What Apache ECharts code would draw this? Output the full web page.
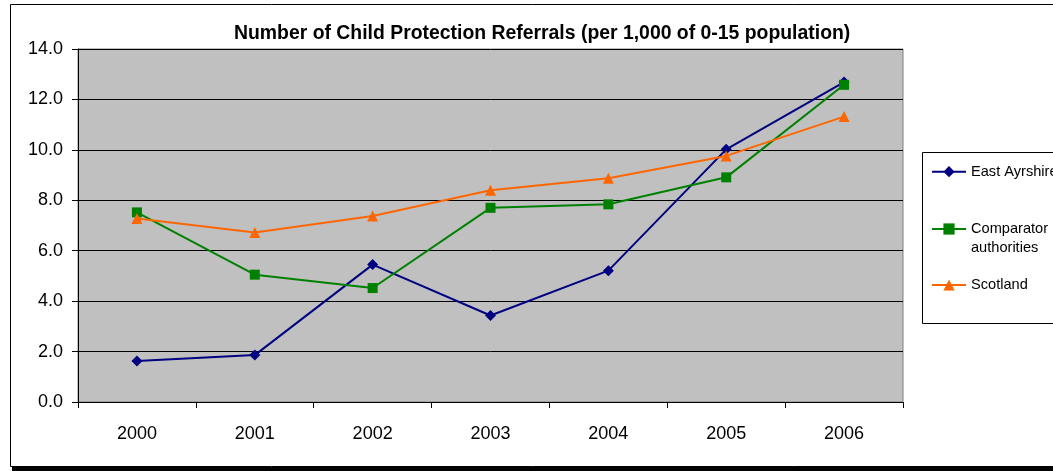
<!DOCTYPE html>
<html>
<head>
<meta charset="utf-8">
<script src="https://cdn.jsdelivr.net/npm/echarts@6/dist/echarts.min.js"></script>
<style>html,body{margin:0;padding:0;background:#fff;}#c{width:1053px;height:471px;}</style>
</head>
<body>
<div id="c"></div>
<script>
var years = ['2000', '2001', '2002', '2003', '2004', '2005', '2006'];
var eastAyrshire = [1.63, 1.86, 5.45, 3.43, 5.21, 10.02, 12.69];
var comparator = [7.52, 5.05, 4.52, 7.70, 7.84, 8.91, 12.58];
var scotland = [7.28, 6.72, 7.38, 8.40, 8.87, 9.76, 11.32];
var yTicks = { min: 0, max: 14, interval: 2 };

var FONT = 'Liberation Sans, Arial, sans-serif';
var chart = echarts.init(document.getElementById('c'), null, { renderer: 'canvas' });

function legendFor(name, top, twoLine) {
  var l = {
    data: [name],
    orient: 'vertical',
    left: 931,
    top: top,
    padding: 0,
    itemWidth: 34,
    itemHeight: 14,
    textStyle: { color: '#000', fontFamily: FONT, fontSize: 14.6, lineHeight: 16 },
    z: 5
  };
  if (twoLine) {
    l.formatter = function () { return ' \nComparator\nauthorities'; };
    l.textStyle = { color: '#000', fontFamily: FONT, fontSize: 14.6, lineHeight: 19 };
  }
  return l;
}

var option = {
  backgroundColor: '#fff',
  animation: false,
  title: {
    text: 'Number of Child Protection Referrals (per 1,000 of 0-15 population)',
    left: 234,
    top: 24,
    padding: 0,
    textStyle: { fontFamily: FONT, fontSize: 19.4, fontWeight: 'bold', color: '#000' }
  },
  graphic: [
    { type: 'rect', z: -1, silent: true, shape: { x: 10.5, y: 4.5, width: 1100, height: 462 }, style: { fill: 'none', stroke: '#000', lineWidth: 1 } },
    { type: 'rect', z: -1, silent: true, shape: { x: 12, y: 467, width: 1100, height: 4 }, style: { fill: '#000' } },
    { type: 'rect', z: 1, silent: true, shape: { x: 922.5, y: 152.5, width: 200, height: 171 }, style: { fill: '#fff', stroke: '#000', lineWidth: 1 } }
  ],
  legend: [
    legendFor('East Ayrshire', 163.7),
    legendFor('Comparator authorities', 200.5, true),
    legendFor('Scotland', 277)
  ],
  grid: {
    left: 78, right: 150, top: 49, bottom: 69,
    show: true, backgroundColor: '#C0C0C0', borderColor: '#808080', borderWidth: 1
  },
  xAxis: {
    type: 'category',
    data: years,
    boundaryGap: true,
    axisLine: { lineStyle: { color: '#000', width: 1 } },
    axisTick: { show: true, alignWithLabel: false, length: 6, lineStyle: { color: '#000' } },
    axisLabel: { color: '#000', fontFamily: FONT, fontSize: 18, margin: 23 },
    splitLine: { show: false }
  },
  yAxis: {
    type: 'value',
    min: yTicks.min, max: yTicks.max, interval: yTicks.interval,
    axisLine: { show: true, lineStyle: { color: '#000', width: 1 } },
    axisTick: { show: true, length: 6, lineStyle: { color: '#000' } },
    axisLabel: { color: '#000', fontFamily: FONT, fontSize: 18, margin: 15, formatter: function (v) { return v.toFixed(1); } },
    splitLine: { show: true, lineStyle: { color: '#000', width: 1 } }
  },
  series: [
    { name: 'East Ayrshire', type: 'line', data: eastAyrshire, symbol: 'diamond', symbolSize: 11,
      lineStyle: { color: '#000080', width: 2 }, itemStyle: { color: '#000080' }, z: 3 },
    { name: 'Comparator authorities', type: 'line', data: comparator, symbol: 'rect', symbolSize: 10,
      lineStyle: { color: '#008000', width: 2 }, itemStyle: { color: '#008000' }, z: 3 },
    { name: 'Scotland', type: 'line', data: scotland, symbol: 'triangle', symbolSize: 11,
      lineStyle: { color: '#FF6600', width: 2 }, itemStyle: { color: '#FF6600' }, z: 3 }
  ]
};
chart.setOption(option);
</script>
</body>
</html>
